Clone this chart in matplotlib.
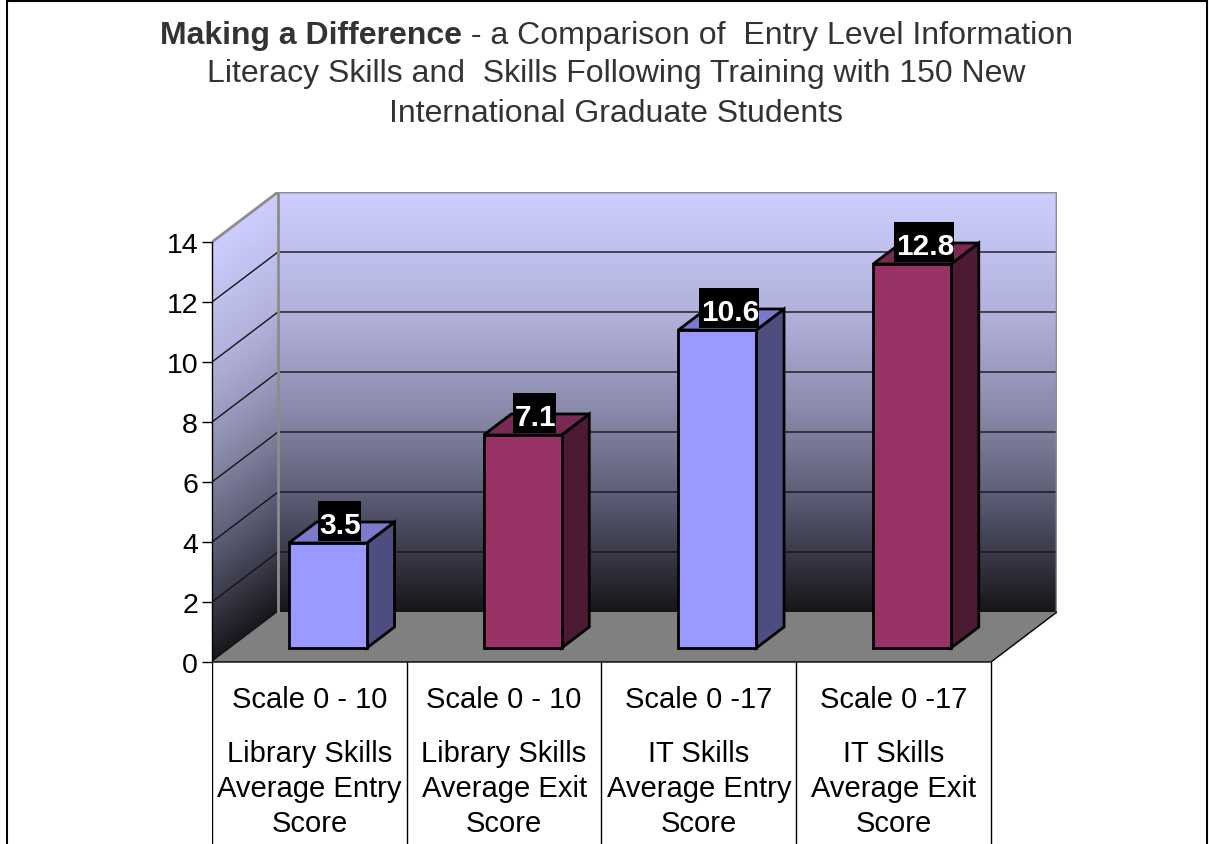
import matplotlib
matplotlib.use('Agg')
import matplotlib.pyplot as plt
import numpy as np
from matplotlib.patches import Polygon, Rectangle
from matplotlib.collections import PolyCollection
from matplotlib.colors import LinearSegmentedColormap, to_rgb
from matplotlib.path import Path

plt.rcParams['font.family'] = ['Liberation Sans', 'DejaVu Sans']

# data
values = [3.5, 7.1, 10.6, 12.8]
scale_labels = ['Scale 0 - 10', 'Scale 0 - 10', 'Scale 0 -17', 'Scale 0 -17']
skill_labels = ['Library Skills\nAverage Entry\nScore',
                'Library Skills\nAverage Exit\nScore',
                'IT Skills\nAverage Entry\nScore',
                'IT Skills\nAverage Exit\nScore']
bar_colors = ['#9999ff', '#993366', '#9999ff', '#993366']
yticks = [0, 2, 4, 6, 8, 10, 12, 14]
title_bold = 'Making a Difference'
title_rest = ' - a Comparison of  Entry Level Information'
title_lines = ['Literacy Skills and  Skills Following Training with 150 New',
               'International Graduate Students']

# 3d look (depth offsets in data units)
DX, DY = 0.339, 1.667
D0, D1 = 0.28, 0.70
BAR_W = 0.4
YMAX = 14
wall_cmap = LinearSegmentedColormap.from_list('wall', [
    (0.0, '#141418'), (0.143, '#3a3a4a'), (0.286, '#5e5e78'), (0.429, '#7e7e9c'),
    (0.571, '#9a9ac0'), (0.714, '#b0b0da'), (0.857, '#c0c0ee'), (1.0, '#ccccff')])


def proj(x, y, d):
    return (x + d * DX, y + d * DY)


def label_box(x0, y0, width, height, mutation_size):
    # black box, more room above the digits than below (text bbox holds the descent)
    l, r = 0.05 * mutation_size, 0.0
    t, b = 0.33 * mutation_size, 0.07 * mutation_size
    verts = [(x0 - l, y0 - b), (x0 + width + r, y0 - b),
             (x0 + width + r, y0 + height + t), (x0 - l, y0 + height + t), (x0 - l, y0 - b)]
    return Path(verts, [Path.MOVETO, Path.LINETO, Path.LINETO, Path.LINETO, Path.CLOSEPOLY])


fig = plt.figure(figsize=(12.09, 8.45), dpi=100)
ymin = -182 / 30.0
ax = fig.add_axes([212 / 1209, 0, 845 / 1209, 652 / 845])
ax.set_xlim(0, 4 + DX)
ax.set_ylim(ymin, YMAX + DY)
ax.patch.set_visible(False)

# walls as thin strips so the gradient follows the wall
n = 160
back, side, cols = [], [], []
for k in range(n):
    v0 = YMAX * k / n
    v1 = YMAX * (k + 1) / n
    back.append([proj(0, v0, 1), proj(4, v0, 1), proj(4, v1, 1), proj(0, v1, 1)])
    side.append([proj(0, v0, 0), proj(0, v0, 1), proj(0, v1, 1), proj(0, v1, 0)])
    cols.append(wall_cmap((k + 0.5) / n))
ax.add_collection(PolyCollection(back, facecolors=cols, edgecolors=cols, linewidths=0.6, zorder=1))
ax.add_collection(PolyCollection(side, facecolors=cols, edgecolors=cols, linewidths=0.6, zorder=1))

# floor
ax.add_patch(Polygon([proj(0, 0, 0), proj(4, 0, 0), proj(4, 0, 1), proj(0, 0, 1)],
                     closed=True, fc='#808080', ec='none', zorder=1))

# gridlines
for v in yticks[1:-1]:
    xs, ys = zip(proj(0, v, 0), proj(0, v, 1), proj(4, v, 1))
    ax.plot(xs, ys, color='#141414', lw=1, zorder=2)

# wall edges
edge = dict(color='#8c8c8c', lw=2, zorder=2, solid_capstyle='projecting')
xs, ys = zip(proj(0, YMAX, 0), proj(0, YMAX, 1), proj(4, YMAX, 1), proj(4, 0, 1))
ax.plot(xs, ys, **edge)
xs, ys = zip(proj(0, 0, 1), proj(0, YMAX, 1))
ax.plot(xs, ys, **edge)
xs, ys = zip(proj(4, 0, 1), proj(4, 0, 0), proj(0, 0, 0))
ax.plot(xs, ys, color='black', lw=1, zorder=2)

# category table lines
for i in range(5):
    ax.plot([i, i], [ymin, 0], color='black', lw=1, zorder=2)

# bars
for i, v in enumerate(values):
    x0 = i + 0.5 - BAR_W / 2
    x1 = x0 + BAR_W
    c = np.array(to_rgb(bar_colors[i]))
    faces = [
        ([proj(x1, 0, D0), proj(x1, 0, D1), proj(x1, v, D1), proj(x1, v, D0)], c * 0.5),
        ([proj(x0, v, D0), proj(x1, v, D0), proj(x1, v, D1), proj(x0, v, D1)], c * 0.8),
        ([proj(x0, 0, D0), proj(x1, 0, D0), proj(x1, v, D0), proj(x0, v, D0)], c),
    ]
    for pts, fc in faces:
        ax.add_patch(Polygon(pts, closed=True, fc=fc, ec='black', lw=2,
                             joinstyle='miter', zorder=3))
    ax.text(i + 0.5 + D0 * DX + 0.065, v + D0 * DY + 0.13, f'{v}',
            ha='center', va='bottom', color='white', fontsize=21.5, weight='bold',
            bbox=dict(boxstyle=label_box, fc='black', ec='none'), zorder=5)

    ax.text(i + 0.5, -1.22, scale_labels[i], ha='center', va='center', fontsize=21)
    ax.text(i + 0.5, -4.2, skill_labels[i], ha='center', va='center',
            fontsize=21, linespacing=1.34)

# y axis
for s in ['top', 'right', 'bottom']:
    ax.spines[s].set_visible(False)
ax.spines['left'].set_bounds(0, YMAX)
ax.spines['left'].set_linewidth(1)
ax.set_yticks(yticks)
ax.set_xticks([])
ax.tick_params(axis='y', length=7, width=1, pad=3, labelsize=20.5)

# title, first line has a bold lead
tc = '#333333'
cx = 616 / 1209
r = fig.canvas.get_renderer()
t1 = fig.text(0, 1 - 44 / 845, title_bold, fontsize=23, weight='bold', color=tc, va='baseline')
t2 = fig.text(0, 1 - 44 / 845, title_rest, fontsize=23, color=tc, va='baseline')
w1 = t1.get_window_extent(r).width / fig.bbox.width
w2 = t2.get_window_extent(r).width / fig.bbox.width
t1.set_x(cx - (w1 + w2) / 2)
t2.set_x(cx - (w1 + w2) / 2 + w1)
for k, line in enumerate(title_lines):
    fig.text(cx, 1 - (82 + 40 * k) / 845, line, fontsize=23, color=tc,
             ha='center', va='baseline')

# outer chart border
fig.add_artist(Rectangle((7 / 1209, -0.01), 1200 / 1209, 1.01 - 2 / 845, fill=False,
                         ec='black', lw=1.5, transform=fig.transFigure))

fig.savefig('out.png', dpi=100)
